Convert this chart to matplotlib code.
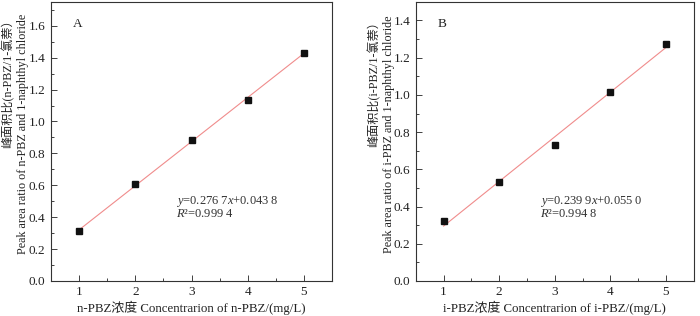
import numpy as np
import matplotlib
matplotlib.use("Agg")
import matplotlib.pyplot as plt
from matplotlib.ticker import MultipleLocator

plt.rcParams['font.family'] = ['Liberation Serif', 'Noto Sans CJK SC']
plt.rcParams['mathtext.fontset'] = 'custom'
plt.rcParams['mathtext.rm'] = 'Liberation Serif'
plt.rcParams['mathtext.it'] = 'Liberation Serif:italic'
plt.rcParams['font.size'] = 9

conc = [1, 2, 3, 4, 5]
ratio_n = [0.31, 0.605, 0.885, 1.135, 1.43]
ratio_i = [0.32, 0.53, 0.73, 1.015, 1.275]
fit_n = (0.2767, 0.0438)
fit_i = (0.2399, 0.0550)
eq_n = [r'$y$=0.276 7$x$+0.043 8', r'$R$' + '²=0.999 4']
eq_i = [r'$y$=0.239 9$x$+0.055 0', r'$R$' + '²=0.994 8']

fig = plt.figure(figsize=(7.0, 3.16), dpi=100)
axA = fig.add_axes([0.0729, 0.111, 0.4014, 0.883])
axB = fig.add_axes([0.594, 0.111, 0.397, 0.883])

txtc = '#222222'

def panel(ax, y, fit, eq, label, ylim, ymaj, xl, yl, lab_pos, eq_pos, ylx):
    x = np.array(conc, dtype=float)
    ax.plot(x, fit[0] * x + fit[1], color='#f08c8c', lw=0.8, zorder=2)
    ax.plot(x, y, 's', color='#111111', ms=4.2, zorder=3)
    ax.set_xlim(0.5, 5.5)
    ax.set_ylim(*ylim)
    ax.xaxis.set_major_locator(MultipleLocator(1))
    ax.xaxis.set_minor_locator(MultipleLocator(0.5))
    ax.yaxis.set_major_locator(MultipleLocator(ymaj))
    ax.yaxis.set_minor_locator(MultipleLocator(ymaj / 2))
    ax.yaxis.set_major_formatter(plt.FuncFormatter(lambda v, p: f'{v:.1f}'))
    ax.tick_params(which='both', direction='in', top=False, right=False,
                   labelsize=9.5, colors=txtc, labelcolor=txtc, pad=4)
    ax.tick_params(which='major', length=4, width=0.6)
    ax.tick_params(which='minor', length=2, width=0.6)
    for s in ax.spines.values():
        s.set_linewidth(0.8)
        s.set_color('#333333')
    ax.set_xlabel(xl, fontsize=9.3, color=txtc)
    ax.xaxis.label.set_va('center')
    ax.xaxis.set_label_coords(0.5, -0.097)
    ax.set_ylabel(yl, fontsize=8.7, color=txtc, linespacing=1.3,
                  multialignment='right')
    ax.yaxis.label.set_va('center')
    ax.yaxis.set_label_coords(ylx, 0.527)
    ax.text(lab_pos[0], lab_pos[1], label, fontsize=9.5, color=txtc, va='center')
    ax.text(eq_pos[0], eq_pos[1], eq[0], fontsize=9.0, color='#333333', va='center')
    ax.text(eq_pos[0], eq_pos[2], eq[1], fontsize=9.0, color='#333333', va='center')

panel(axA, ratio_n, fit_n, eq_n, 'A', (0, 1.75), 0.2,
      'n-PBZ浓度 Concentrarion of n-PBZ/(mg/L)',
      '峰面积比(n-PBZ/1-氯萘）\nPeak area ratio of n-PBZ and 1-naphthyl chloride',
      (0.88, 1.61), (2.72, 0.50, 0.421), -0.128)
panel(axB, ratio_i, fit_i, eq_i, 'B', (0, 1.5), 0.2,
      'i-PBZ浓度 Concentrarion of i-PBZ/(mg/L)',
      '峰面积比(i-PBZ/1-氯萘）\nPeak area ratio of i-PBZ and 1-naphthyl chloride',
      (0.9, 1.38), (2.74, 0.429, 0.361), -0.125)

fig.savefig('out.png', dpi=100)
